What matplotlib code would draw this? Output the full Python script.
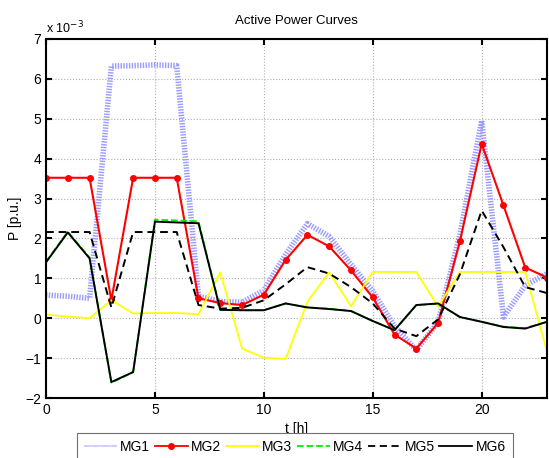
import numpy as np
import matplotlib
matplotlib.use("Agg")
import matplotlib.pyplot as plt

plt.rcParams['font.family'] = ['Liberation Sans', 'DejaVu Sans']

# hourly active power, in units of 1e-3 p.u.
hours = np.arange(24)
mg1 = [0.58, 0.55, 0.5, 6.32, 6.33, 6.35, 6.33, 0.55, 0.42, 0.4, 0.7, 1.6,
       2.37, 2.05, 1.35, 0.68, -0.2, -0.8, -0.1, 2.1, 4.95, 0.03, 0.82, 1.12]
mg2 = [3.52, 3.52, 3.52, 0.45, 3.52, 3.52, 3.52, 0.5, 0.38, 0.33, 0.59, 1.46,
       2.09, 1.8, 1.2, 0.52, -0.41, -0.76, -0.12, 1.93, 4.37, 2.83, 1.27, 1.02]
mg3 = [0.09, 0.04, 0.0, 0.45, 0.12, 0.13, 0.13, 0.1, 1.15, -0.76, -0.99, -1.02,
       0.41, 1.15, 0.3, 1.16, 1.16, 1.16, 0.29, 1.16, 1.16, 1.16, 1.16, -0.84]
mg4 = [1.42, 2.17, 1.52, -1.62, -1.35, 2.47, 2.45, 2.43, 0.22, 0.2, 0.2, 0.37,
       0.27, 0.24, 0.18, -0.07, -0.3, 0.33, 0.36, 0.03, -0.09, -0.21, -0.25, -0.09]
mg5 = [2.16, 2.16, 2.16, 0.27, 2.16, 2.16, 2.16, 0.33, 0.24, 0.26, 0.45, 0.85,
       1.28, 1.12, 0.78, 0.37, -0.26, -0.45, -0.03, 1.1, 2.7, 1.78, 0.78, 0.63]
mg6 = [1.4, 2.15, 1.5, -1.6, -1.35, 2.42, 2.4, 2.38, 0.21, 0.2, 0.2, 0.37,
       0.27, 0.23, 0.18, -0.07, -0.3, 0.33, 0.37, 0.03, -0.09, -0.22, -0.26, -0.09]

fig = plt.figure(figsize=(5.49, 4.58), dpi=100)
ax = fig.add_axes([0.0838, 0.131, 0.9126, 0.784])

ax.plot(hours, mg1, color='#9a9aff', lw=4, linestyle=(0, (0.25, 0.25)), label='MG1')
ax.plot(hours, mg2, color='#ff0000', lw=1.5, marker='o', ms=4, label='MG2')
ax.plot(hours, mg3, color='#ffff00', lw=1.3, label='MG3')
ax.plot(hours, mg4, color='#00ee00', lw=1.3, linestyle='--', label='MG4')
ax.plot(hours, mg5, color='black', lw=1.4, linestyle=(0, (4, 2.5)), label='MG5')
ax.plot(hours, mg6, color='black', lw=1.4, label='MG6')

ax.set_xlim(0, 23)
ax.set_ylim(-2, 7)
ax.set_xticks([0, 5, 10, 15, 20])
ax.set_yticks(range(-2, 8))
ax.grid(True, color='#b0b0b0', linestyle=':', lw=0.8)
ax.tick_params(direction='in', top=True, right=True, labelsize=10, length=4, width=1.5)
for s in ax.spines.values():
    s.set_linewidth(1.5)

ax.set_title('Active Power Curves', fontsize=9.5, pad=11)
ax.set_ylabel('P [p.u.]', fontsize=10, labelpad=2)
ax.set_xlabel('t [h]', fontsize=10, labelpad=4)
ax.text(0.0, 1.008, r'x 10$^{-3}$', transform=ax.transAxes, fontsize=9, va='bottom', ha='left')

handles, labels = ax.get_legend_handles_labels()
leg = fig.legend(handles, labels, loc='upper left', bbox_to_anchor=(77 / 549, 1 - 433 / 458),
                 ncol=6, fontsize=10, handlelength=2.35, columnspacing=0.35,
                 handletextpad=0.25, borderaxespad=0, borderpad=0.5,
                 fancybox=False, edgecolor='#707070', framealpha=1)
leg.get_frame().set_linewidth(0.8)
leg.set_zorder(10)
for h in leg.get_lines():
    h.set_linewidth(1.3)

fig.savefig('out.png', dpi=100)
